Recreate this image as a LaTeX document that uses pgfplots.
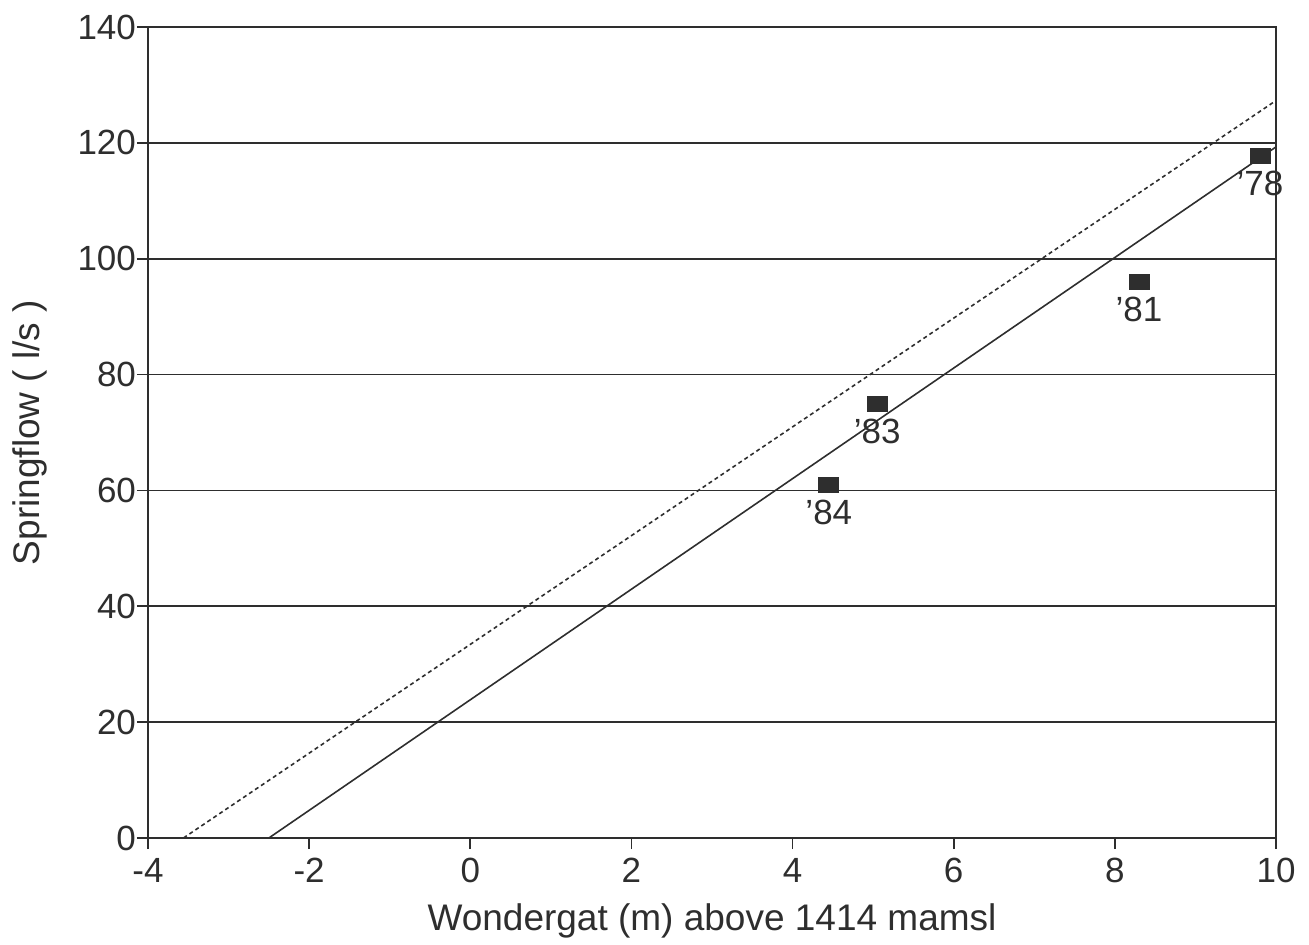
\documentclass[border=0pt]{standalone}
\usepackage{pgfplots}
\pgfplotsset{compat=1.18}
\usepackage{fontspec}
\setmainfont{Liberation Sans}
\definecolor{ink}{HTML}{2E2E2E}

\begin{document}
\begin{tikzpicture}
\begin{axis}[
  scale only axis,
  width=564pt, height=405.5pt,
  xmin=-4, xmax=10, ymin=0, ymax=140,
  xtick={-4,-2,...,10}, ytick={0,20,...,140},
  axis line style={ink, line width=0.9pt},
  tick style={ink, line width=0.9pt},
  major tick length=5.5pt,
  tick align=outside,
  xtick pos=bottom, ytick pos=left,
  ymajorgrids,
  grid style={ink, line width=0.8pt},
  /pgf/number format/assume math mode=true,
  ticklabel style={font=\fontsize{17.5}{20}\selectfont, text=ink},
  xticklabel style={yshift=-1pt},
  yticklabel style={xshift=3pt},
  xlabel={Wondergat (m) above 1414 mamsl},
  ylabel={Springflow ( l/s )},
  label style={font=\fontsize{18.5}{22}\selectfont, text=ink},
  xlabel style={yshift=-3.5pt},
  ylabel style={yshift=8.5pt},
  clip=false,
]
% fitted relation and upper bound
\addplot[ink, line width=0.8pt] coordinates {(-2.5,0) (10,119.3)};
\addplot[ink, line width=0.8pt, dash pattern=on 2pt off 1.6pt] coordinates {(-3.56,0) (10,127.3)};
% observed annual values
\addplot[only marks, mark=square*, mark size=5pt,
  mark options={ink, yscale=0.75},
  nodes near coords, point meta=explicit symbolic,
  every node near coord/.append style={anchor=north, yshift=-4pt,
    font=\fontsize{17.5}{20}\selectfont, text=ink}]
  table[meta=lab] {
  x     y     lab
  9.80  117.8 ’78
  8.30  96.0  ’81
  5.05  74.9  ’83
  4.45  61.0  ’84
};
\end{axis}
\path[use as bounding box] ([shift={(-74pt,-49.5pt)}]current axis.south west)
  rectangle ([shift={(16.5pt,13.5pt)}]current axis.north east);
\end{tikzpicture}
\end{document}
